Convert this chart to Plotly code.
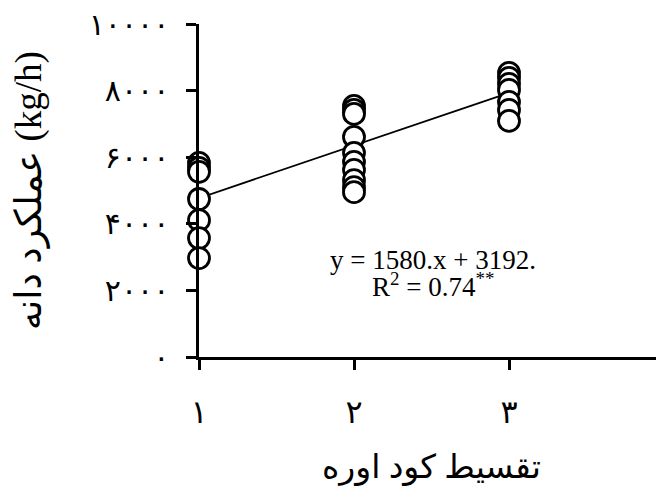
import plotly.graph_objects as go

# یکی، دو و سه بار تقسیط کود اوره
split_1 = [5830, 5680, 5560, 4745, 4110, 3570, 2970]
split_2 = [7540, 7420, 7300, 6610, 6130, 5860, 5620, 5310, 5100, 4950]
split_3 = [8530, 8380, 8200, 8020, 7660, 7420, 7090]

x_ticks = [1, 2, 3, 4]
x_labels = ["۱", "۲", "۳", "۴"]
y_ticks = [0, 2000, 4000, 6000, 8000, 10000]
y_labels = ["۰", "۲۰۰۰", "۴۰۰۰", "۶۰۰۰", "۸۰۰۰", "۱۰۰۰۰"]

slope = 1580
intercept = 3192
r2 = 0.74

serif = "Liberation Serif, Times New Roman, DejaVu Sans, serif"

xs = [1] * len(split_1) + [2] * len(split_2) + [3] * len(split_3)
ys = split_1 + split_2 + split_3

fig = go.Figure()

# trend line from the fitted equation
trend_x = [1, 3]
trend_y = [slope * v + intercept for v in trend_x]
fig.add_trace(go.Scatter(x=trend_x, y=trend_y, mode="lines",
                         line=dict(color="black", width=1.8),
                         cliponaxis=False, hoverinfo="skip"))

fig.add_trace(go.Scatter(x=xs, y=ys, mode="markers",
                         marker=dict(symbol="circle", size=21, color="white",
                                     line=dict(color="black", width=2.8)),
                         cliponaxis=False))

fig.add_annotation(x=0.503, y=0.24, xref="paper", yref="paper",
                   text=f"y = {slope}.x + {intercept}.", showarrow=False,
                   font=dict(family=serif, size=27, color="black"))
fig.add_annotation(x=0.503, y=0.16, xref="paper", yref="paper",
                   text=f"R<sup>2</sup> = {r2:.2f}<sup>**</sup>", showarrow=False,
                   font=dict(family=serif, size=27, color="black"))

fig.update_xaxes(range=[1, 4], tickvals=x_ticks, ticktext=x_labels,
                 showgrid=False, zeroline=False, automargin=False,
                 showline=True, linecolor="black", linewidth=2.5,
                 ticks="outside", ticklen=10, tickwidth=2.5, tickcolor="black",
                 ticklabelstandoff=15, ticklabeloverflow="allow",
                 tickfont=dict(family=serif, size=32, color="black"),
                 title=dict(text="تقسیط کود اوره", standoff=26,
                            font=dict(family=serif, size=33, color="black")))
fig.update_yaxes(range=[0, 10000], tickvals=y_ticks, ticktext=y_labels,
                 showgrid=False, zeroline=False, automargin=False,
                 showline=True, linecolor="black", linewidth=2.5,
                 ticks="outside", ticklen=10, tickwidth=2.5, tickcolor="black",
                 ticklabelstandoff=11, ticklabeloverflow="allow",
                 tickfont=dict(family=serif, size=30, color="black"),
                 title=dict(text="عملکرد دانه (kg/h)", standoff=52,
                            font=dict(family=serif, size=37, color="black")))

# page body adds an 8px margin, so the figure is 8px smaller to fit the window
fig.update_layout(width=656, height=489, template="plotly_white",
                  plot_bgcolor="white", paper_bgcolor="white",
                  showlegend=False,
                  margin=dict(l=191, r=0, t=16, b=140))

fig.write_html("out.html")
